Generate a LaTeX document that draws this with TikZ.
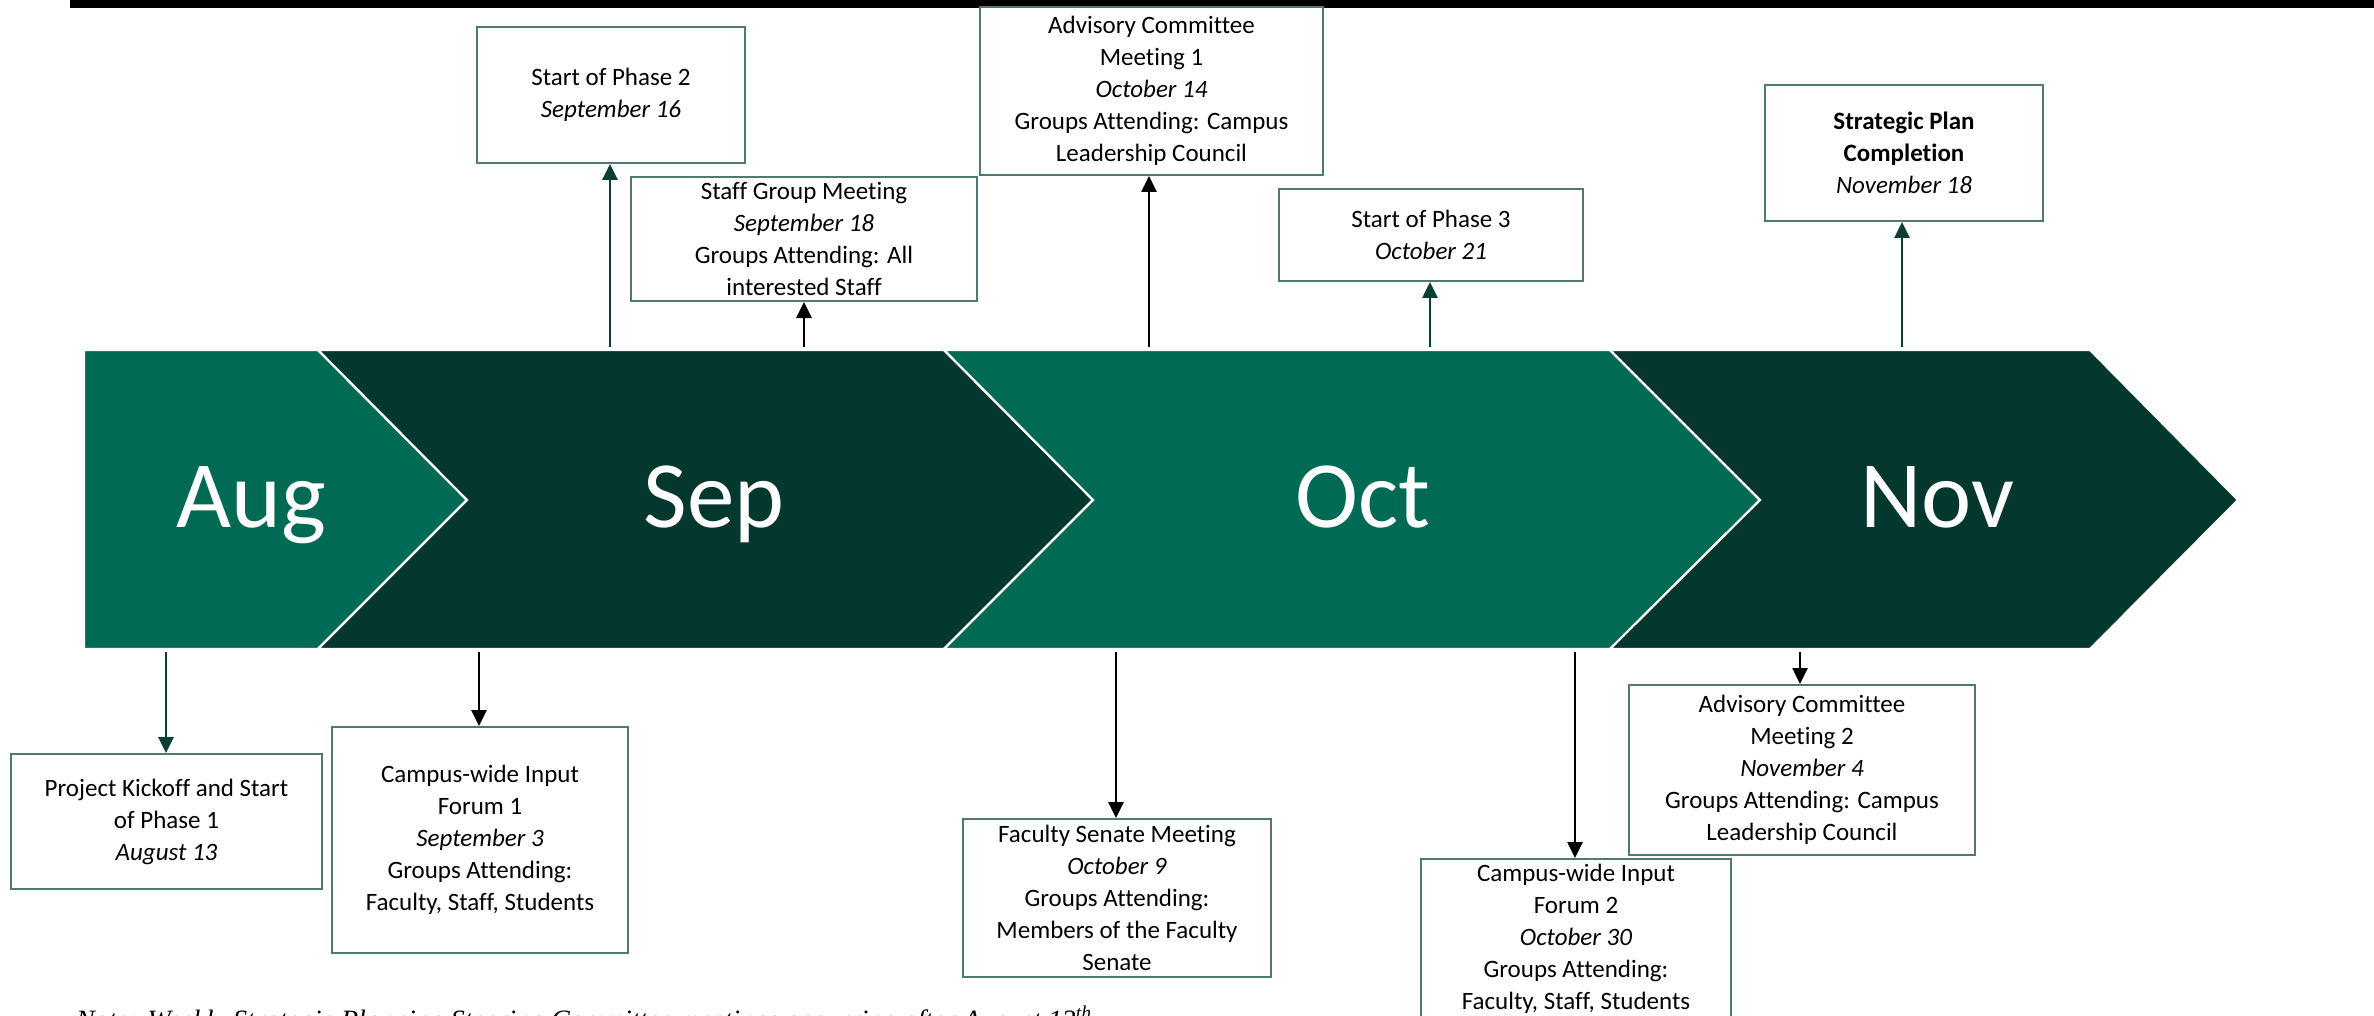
\documentclass[tikz,border=0pt]{standalone}
\usepackage{fontspec}
\setmainfont{Carlito}[Ligatures={NoCommon}]
\newfontfamily\notefont{Liberation Serif}
\usetikzlibrary{arrows.meta}
\definecolor{teal}{HTML}{006A55}
\definecolor{deep}{HTML}{04382F}
\definecolor{boxline}{HTML}{4E7A6F}
\definecolor{arrgreen}{HTML}{0B3F33}
\tikzset{
  evbox/.style={draw=boxline, line width=2pt, fill=white, align=center, inner sep=0pt,
    font=\fontsize{25}{32}\selectfont},
  chev/.style={draw=white, line width=2.2pt, line join=miter},
  month/.style={text=white, font=\fontsize{95}{100}\selectfont, anchor=base},
  arr/.style={line width=2.7pt, -{Triangle[width=15pt,length=16pt]}},
  garr/.style={arr, draw=arrgreen, color=arrgreen},
  barr/.style={arr, draw=black, color=black}
}
\begin{document}
\begin{tikzpicture}[x=1pt,y=-1pt]
\path[use as bounding box, clip] (0,0) rectangle (2374,1016);
\fill[white] (0,0) rectangle (2374,1016);
% top bar
\fill[black] (70,0) rectangle (2374,8);
% chevrons
\filldraw[chev, fill=teal] (84,350) -- (318,350) -- (467,500) -- (318,649) -- (84,649) -- cycle;
\filldraw[chev, fill=deep] (318,350) -- (944,350) -- (1093,500) -- (944,649) -- (318,649) -- (467,500) -- cycle;
\filldraw[chev, fill=teal] (944,350) -- (1610,350) -- (1760,500) -- (1610,649) -- (944,649) -- (1093,500) -- cycle;
\filldraw[chev, fill=deep] (1610,350) -- (2090,350) -- (2238,500) -- (2090,649) -- (1610,649) -- (1760,500) -- cycle;
\node[month] (aug) at (251,527) {Aug};
\node[month] (sep) at (714,527) {Sep};
\node[month] (oct) at (1363,527) {Oct};
\node[month] (nov) at (1937,527) {Nov};
% boxes
\node[evbox, minimum width=268pt, minimum height=136pt] (p2) at (611,95) {Start of Phase 2\\\textit{September 16}};
\node[evbox, minimum width=346pt, minimum height=124pt] (sg) at (804,239) {Staff Group Meeting\\\textit{September 18}\\Groups Attending: All\\interested Staff};
\node[evbox, minimum width=343pt, minimum height=168pt] (ac1) at (1151.5,91) {Advisory Committee\\Meeting 1\\\textit{October 14}\\Groups Attending: Campus\\Leadership Council};
\node[evbox, minimum width=304pt, minimum height=92pt] (p3) at (1431,235) {Start of Phase 3\\\textit{October 21}};
\node[evbox, minimum width=278pt, minimum height=136pt] (sp) at (1904,153) {\textbf{Strategic Plan}\\\textbf{Completion}\\\textit{November 18}};
\node[evbox, minimum width=311pt, minimum height=135pt] (pk) at (166.5,821.5) {Project Kickoff and Start\\of Phase 1\\\textit{August 13}};
\node[evbox, minimum width=296pt, minimum height=226pt] (cf1) at (480,840) {Campus-wide Input\\Forum 1\\\textit{September 3}\\Groups Attending:\\Faculty, Staff, Students};
\node[evbox, minimum width=308pt, minimum height=158pt] (fs) at (1117,898) {Faculty Senate Meeting\\\textit{October 9}\\Groups Attending:\\Members of the Faculty\\Senate};
\node[evbox, minimum width=346pt, minimum height=170pt] (ac2) at (1802,770) {Advisory Committee\\Meeting 2\\\textit{November 4}\\Groups Attending: Campus\\Leadership Council};
\node[evbox, minimum width=310pt, minimum height=159pt] (cf2) at (1576,938.5) {Campus-wide Input\\Forum 2\\\textit{October 30}\\Groups Attending:\\Faculty, Staff, Students};
% arrow start points
\coordinate (tp2) at (610,347);
\coordinate (tsg) at (804,347);
\coordinate (tac1) at (1149,347);
\coordinate (tp3) at (1430,347);
\coordinate (tsp) at (1902,347);
\coordinate (bpk) at (166,652);
\coordinate (bcf1) at (479,652);
\coordinate (bfs) at (1116,652);
\coordinate (bcf2) at (1575,652);
\coordinate (bac2) at (1800,652);
% arrows
\draw[garr] (tp2) -- (tp2 |- p2.south);
\draw[barr] (tsg) -- (tsg |- sg.south);
\draw[barr] (tac1) -- (tac1 |- ac1.south);
\draw[garr] (tp3) -- (tp3 |- p3.south);
\draw[garr] (tsp) -- (tsp |- sp.south);
\draw[garr] (bpk) -- (bpk |- pk.north);
\draw[barr] (bcf1) -- (bcf1 |- cf1.north);
\draw[barr] (bfs) -- (bfs |- fs.north);
\draw[barr] (bcf2) -- (bcf2 |- cf2.north);
\draw[barr] (bac2) -- (bac2 |- ac2.north);
% note
\node[anchor=base west, inner sep=0pt, font=\notefont\itshape\fontsize{28}{30}\selectfont] (note) at (76,1029) {Note: Weekly Strategic Planning Steering Committee meetings occurring after August 13\textsuperscript{th}};
\end{tikzpicture}
\end{document}
